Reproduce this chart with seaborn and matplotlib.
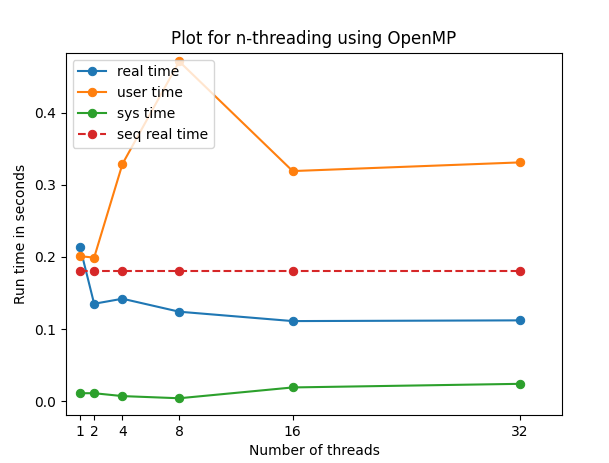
import matplotlib
matplotlib.use("Agg")
import matplotlib.pyplot as plt
import seaborn as sns

threads = [1, 2, 4, 8, 16, 32]
real_time = [0.214, 0.135, 0.142, 0.124, 0.111, 0.112]
user_time = [0.201, 0.199, 0.329, 0.471, 0.319, 0.331]
sys_time = [0.011, 0.011, 0.007, 0.004, 0.019, 0.024]
seq_real = [0.180] * 6

fig, ax = plt.subplots(figsize=(6.09, 4.63), dpi=100)
fig.subplots_adjust(left=0.108, right=0.923, bottom=0.104, top=0.886)
sns.lineplot(x=threads, y=real_time, marker="o", markeredgecolor=None, ax=ax, label="real time", color="C0")
sns.lineplot(x=threads, y=user_time, marker="o", markeredgecolor=None, ax=ax, label="user time", color="C1")
sns.lineplot(x=threads, y=sys_time, marker="o", markeredgecolor=None, ax=ax, label="sys time", color="C2")
sns.lineplot(x=threads, y=seq_real, marker="o", markeredgecolor=None, linestyle="--", ax=ax, label="seq real time", color="C3")

ax.set_xticks(threads)
ax.set_xlim(0, 35)
ax.set_ylim(-0.019, 0.483)
ax.set_xlabel("Number of threads")
ax.set_ylabel("Run time in seconds")
ax.set_title("Plot for n-threading using OpenMP")
ax.legend(loc="upper left")
fig.savefig("out.png")
